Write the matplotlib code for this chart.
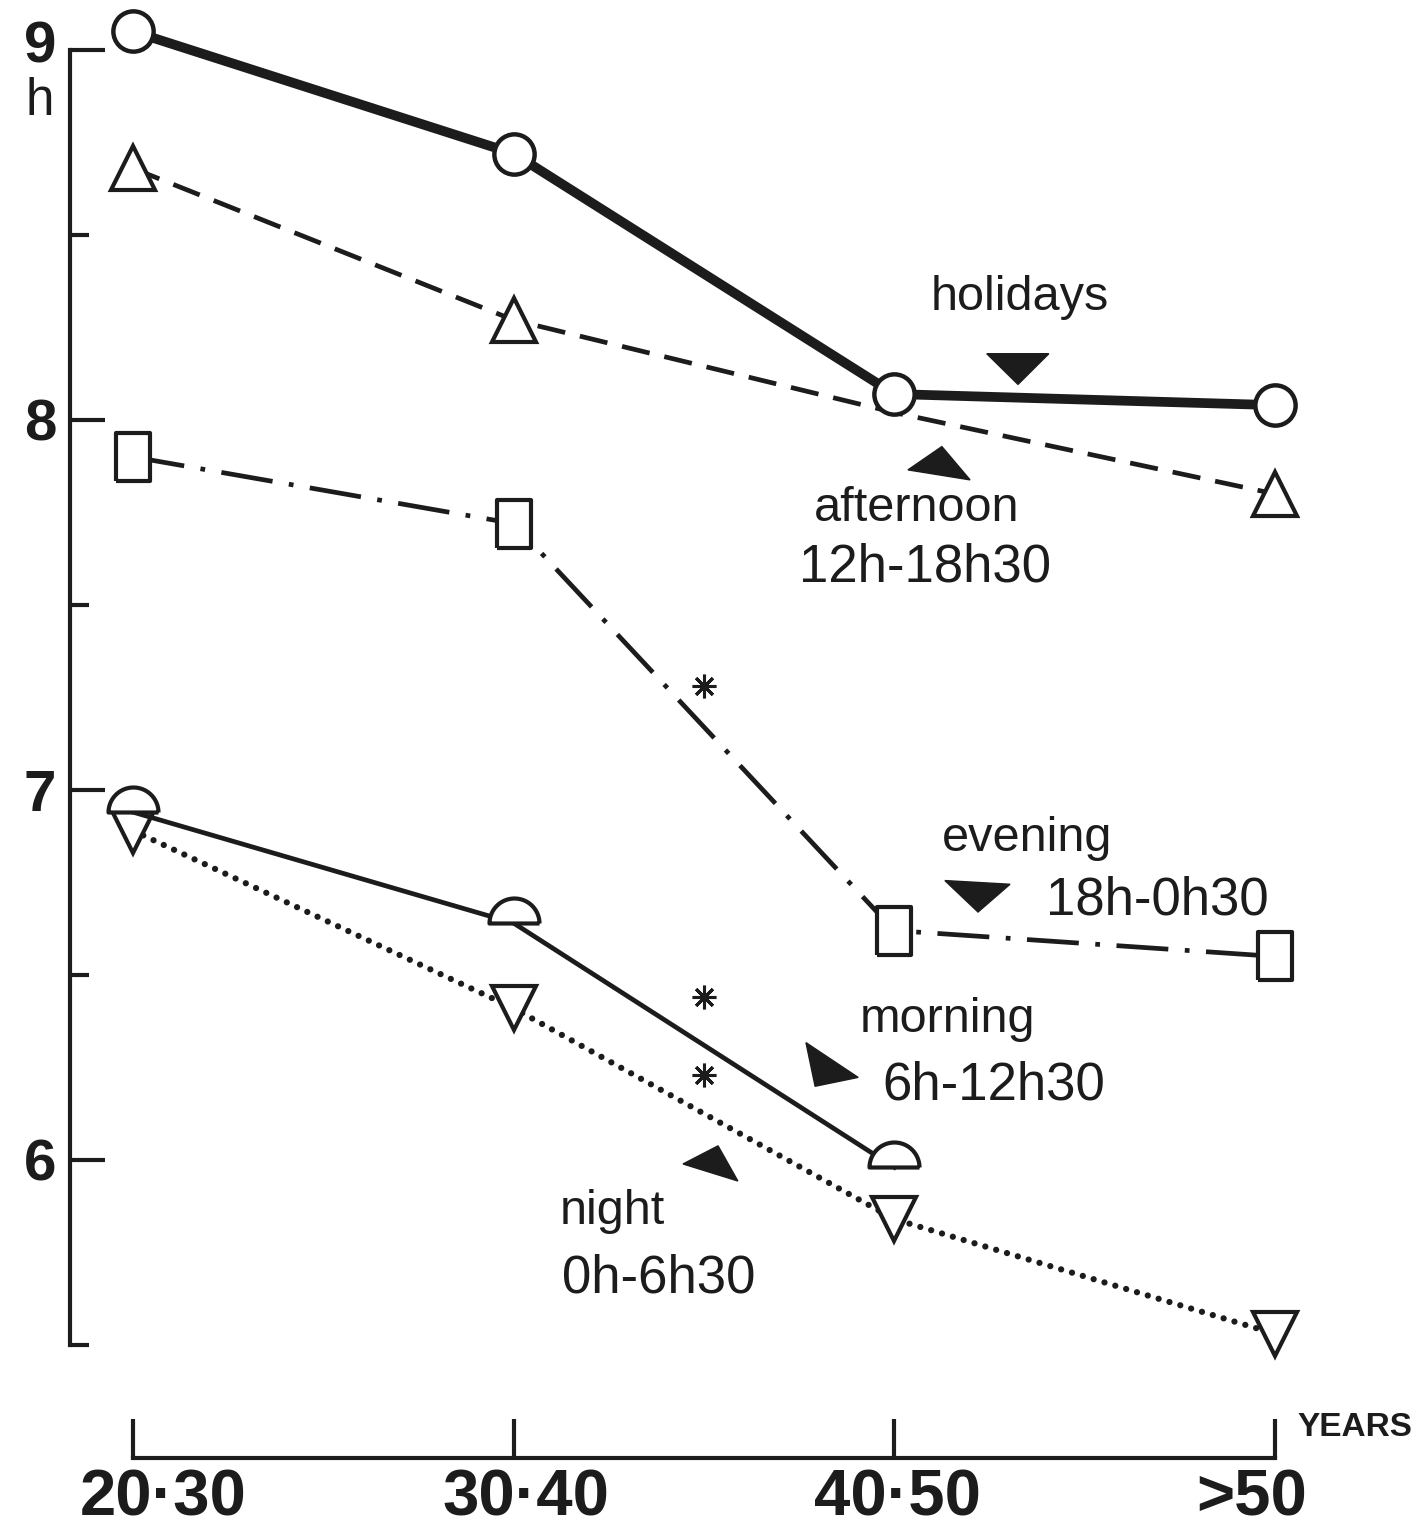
import matplotlib.pyplot as plt
from matplotlib.markers import MarkerStyle
from matplotlib.transforms import ScaledTranslation
import numpy as np

plt.rcParams['font.family'] = ['Liberation Sans', 'DejaVu Sans']

ink = '#1c1c1c'

age_groups = ["20·30", "30·40", "40·50", ">50"]
x = np.arange(len(age_groups))

holidays = [9.05, 8.72, 8.07, 8.04]
afternoon = [8.68, 8.27, 8.02, 7.80]
evening = [7.90, 7.72, 6.62, 6.55]
morning = [6.94, 6.64, 5.98]
night = [6.89, 6.41, 5.84, 5.53]

# significance stars between 30-40 and 40-50
star_x = [1.50, 1.50, 1.50]
star_y = [7.28, 6.44, 6.23]

# (text, x, y, fontsize)
labels = [
    ("holidays", 2.33, 8.33, 35),
    ("afternoon", 2.06, 7.76, 35),
    ("12h-18h30", 2.08, 7.60, 38),
    ("evening", 2.35, 6.87, 35),
    ("18h-0h30", 2.69, 6.70, 38),
    ("morning", 2.14, 6.38, 35),
    ("6h-12h30", 2.26, 6.20, 38),
    ("night", 1.26, 5.86, 35),
    ("0h-6h30", 1.38, 5.68, 38),
]

# filled pointer triangles next to the labels (data coords)
pointers = [
    [(2.243, 8.179), (2.406, 8.179), (2.325, 8.096)],
    [(2.036, 7.865), (2.125, 7.928), (2.199, 7.838)],
    [(2.133, 6.755), (2.304, 6.745), (2.220, 6.670)],
    [(1.768, 6.317), (1.905, 6.223), (1.792, 6.199)],
    [(1.445, 5.989), (1.537, 6.038), (1.589, 5.943)],
]

fig = plt.figure(figsize=(14.23, 15.31), dpi=100)
ax = fig.add_axes([0, 0, 1, 1])
ax.set_xlim(-0.3494, 3.389)
ax.set_ylim(4.997, 9.135)

square = [(-0.7, -1), (0.7, -1), (0.7, 1), (-0.7, 1), (-0.7, -1)]
theta = np.linspace(0, np.pi, 40)
half_circle = list(zip(np.cos(theta), np.sin(theta))) + [(1, 0)]

ax.plot(x, night, color=ink, lw=4.5, linestyle=(0, (0.01, 1.8)),
        dash_capstyle='round', marker='v', ms=31, mfc='white', mec=ink,
        mew=3, zorder=3)
ax.plot(x[:3], morning, color=ink, lw=3.4, marker=MarkerStyle(half_circle),
        ms=36, mfc='white', mec=ink, mew=3, zorder=4)
ax.plot(x, evening, color=ink, lw=3.4, linestyle=(0, (11, 3.5, 1, 3.5)),
        marker=MarkerStyle(square), ms=35, mfc='white', mec=ink, mew=3,
        zorder=3)
ax.plot(x, afternoon, color=ink, lw=3.4, linestyle=(0, (6, 3.2)),
        marker='^', ms=32, mfc='white', mec=ink, mew=3, markevery=[0, 1, 3],
        zorder=3)
ax.plot(x, holidays, color=ink, lw=7, marker='o', ms=29, mfc='white',
        mec=ink, mew=3.2, zorder=5)

ax.plot(star_x, star_y, linestyle='none', marker=(8, 2, 0), ms=17,
        mec=ink, mew=2.2, zorder=5)

for txt, tx, ty, fs in labels:
    ax.text(tx, ty, txt, fontsize=fs, ha='center', va='center', color=ink)

for tri in pointers:
    xs, ys = zip(*tri)
    ax.fill(xs, ys, color=ink, zorder=5)

# axes
for side in ['top', 'right']:
    ax.spines[side].set_visible(False)
ax.spines['left'].set_position(('data', -0.165))
ax.spines['left'].set_bounds(5.5, 9)
ax.spines['bottom'].set_position(('data', 5.195))
ax.spines['bottom'].set_bounds(0, 3)
for side in ['left', 'bottom']:
    ax.spines[side].set_linewidth(3)
    ax.spines[side].set_color(ink)

ax.set_yticks([6, 7, 8, 9])
ax.set_yticks([5.5, 6.5, 7.5, 8.5], minor=True)
ax.set_yticklabels(['6', '7', '8', '9'], fontsize=42, fontweight='bold',
                   color=ink)
ax.tick_params(axis='y', which='major', direction='in', length=25, width=3,
               pad=10, color=ink)
ax.tick_params(axis='y', which='minor', direction='in', length=14, width=3,
               color=ink)

ax.set_xticks(x)
ax.set_xticklabels(age_groups, fontsize=47, fontweight='bold', color=ink)
ax.tick_params(axis='x', direction='in', length=28, width=3, pad=8,
               color=ink)

# the hand lettering sits a little off the tick centres
for lbl, dx in zip(ax.get_xticklabels(), [22, 9, 2, -17]):
    lbl.set_transform(lbl.get_transform()
                      + ScaledTranslation(dx / 72, 0, fig.dpi_scale_trans))
top_lbl = ax.get_yticklabels()[-1]
top_lbl.set_transform(top_lbl.get_transform()
                      + ScaledTranslation(0, 6 / 72, fig.dpi_scale_trans))

ax.text(-0.244, 8.824, "h", fontsize=37, ha='center', va='baseline',
        color=ink)
ax.text(3.21, 5.278, "YEARS", fontsize=24, fontweight='bold',
        ha='center', va='center', color=ink)

fig.savefig('out.png', dpi=100, facecolor='white')
